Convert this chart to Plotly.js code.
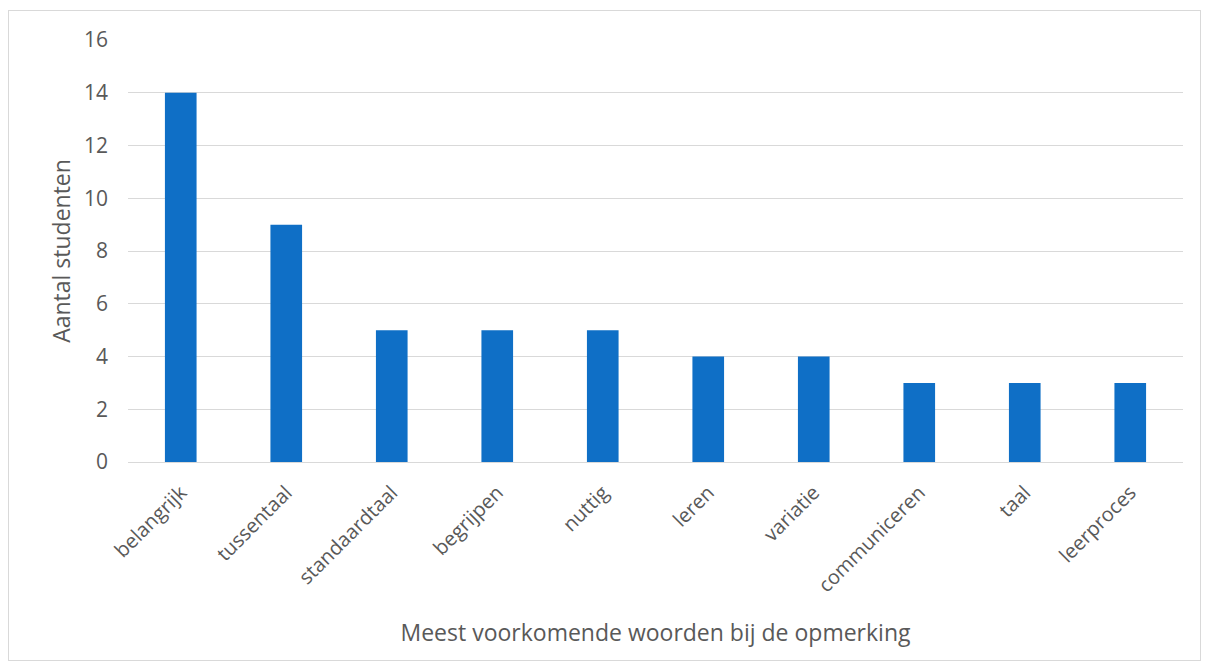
<!DOCTYPE html>
<html>
<head>
<meta charset="utf-8">
<script src="https://cdn.plot.ly/plotly-3.0.1.min.js"></script>
<style>
html,body{margin:0;padding:0;background:#fff;}
#chart{width:1208px;height:667px;position:relative;}
#frame{position:absolute;left:8px;top:10px;width:1191px;height:649px;border:1px solid #d9d9d9;pointer-events:none;}
</style>
</head>
<body>
<div id="chart"></div>
<div id="frame"></div>
<script>
const categories = ["belangrijk","tussentaal","standaardtaal","begrijpen","nuttig","leren","variatie","communiceren","taal","leerproces"];
const values = [14, 9, 5, 5, 5, 4, 4, 3, 3, 3];
const yTicks = [0, 2, 4, 6, 8, 10, 12, 14, 16];

const font = "Open Sans, Liberation Sans, sans-serif";
const grey = "#595959";

Plotly.newPlot("chart", [{
  type: "bar",
  x: categories,
  y: values,
  marker: {color: "#0F6FC6"},
  width: 0.3,
  hoverinfo: "x+y"
}], {
  width: 1208, height: 667,
  margin: {l: 128, r: 25, t: 40, b: 205},
  paper_bgcolor: "#fff", plot_bgcolor: "#fff",
  showlegend: false,
  font: {family: font, color: grey, size: 20},
  xaxis: {
    type: "category",
    tickangle: -45,
    tickfont: {size: 20, color: grey},
    showgrid: false,
    showline: true, linecolor: "#d9d9d9", linewidth: 1,
    ticks: "", automargin: false, ticklabelstandoff: 10,
    title: {text: "Meest voorkomende woorden bij de opmerking", font: {size: 23, color: grey}, standoff: 28}
  },
  yaxis: {
    range: [0, 16],
    tickvals: yTicks,
    tickfont: {size: 21, color: grey},
    showgrid: true, gridcolor: "#d9d9d9", gridwidth: 1,
    zeroline: false, showline: false, ticks: "",
    ticklabelstandoff: 19, automargin: false,
    title: {text: "Aantal studenten", font: {size: 23, color: grey}, standoff: 6}
  }
}, {displayModeBar: false, staticPlot: true});
</script>
</body>
</html>
